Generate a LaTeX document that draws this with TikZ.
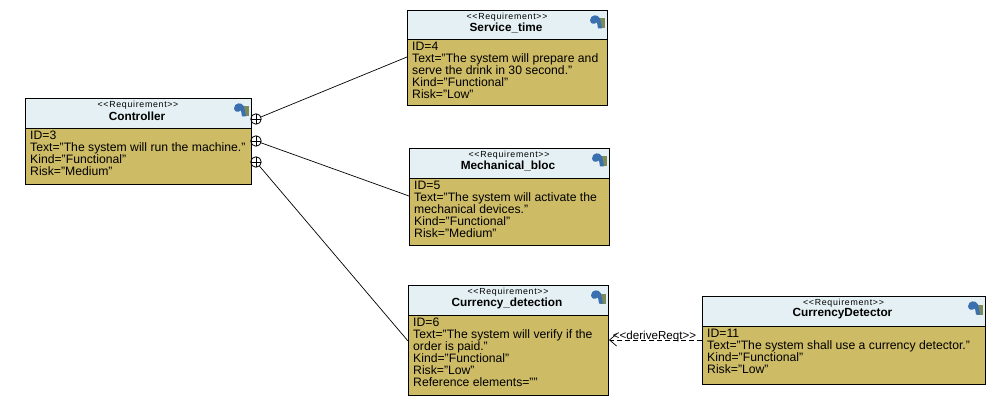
\documentclass[tikz,border=0pt]{standalone}
\usepackage{fontspec}
\setmainfont{Liberation Sans}
\newfontfamily\stereofont[LetterSpace=8]{Liberation Sans}
\usetikzlibrary{arrows.meta}
\definecolor{headfill}{HTML}{E4F0F3}
\definecolor{bodyfill}{HTML}{CDBB66}
\definecolor{iconblue}{HTML}{3A6FB0}
\definecolor{iconolive}{HTML}{7C8A5A}
\tikzset{
  x=1pt,y=-1pt,
  reqpart/.style={draw=black,line width=1pt,inner sep=0pt,outer sep=0pt,anchor=north west},
  headbox/.style={reqpart,fill=headfill},
  bodybox/.style={reqpart,fill=bodyfill},
  stereo/.style={inner sep=0pt,font=\stereofont\fontsize{8.8}{10}\selectfont},
  titletext/.style={inner sep=0pt,font=\fontsize{11.8}{14}\selectfont\bfseries},
  bodytext/.style={inner sep=0pt,anchor=north west,align=left,font=\fontsize{12.2}{12}\selectfont},
  plusnode/.style={circle,draw=black,line width=.8pt,minimum size=10.5pt,inner sep=0pt,outer sep=0pt,
    path picture={\draw[line width=.8pt] (path picture bounding box.north)--(path picture bounding box.south)
      (path picture bounding box.west)--(path picture bounding box.east);}},
  link/.style={draw=black,line width=.7pt},
  derive/.style={draw=black,line width=.7pt,dashed,dash pattern=on 5pt off 3pt,-{Straight Barb[length=7pt,width=12pt,line width=.7pt]}},
  linklabel/.style={inner sep=0pt,font=\fontsize{11.6}{12}\selectfont}
}
% name, x0, y0, ydiv, x1, y1, title, body
\newcommand{\reqbox}[8]{%
  \pgfmathsetmacro{\rw}{#5-#2}\pgfmathsetmacro{\rh}{#4-#3}\pgfmathsetmacro{\rb}{#6-#4}
  \pgfmathsetmacro{\rc}{(#2+#5)/2}
  \node[headbox,minimum width=\rw pt,minimum height=\rh pt] (#1) at (#2,#3) {};
  \node[bodybox,minimum width=\rw pt,minimum height=\rb pt] (#1b) at (#2,#4) {};
  \node[stereo] (#1s) at (\rc,#3+7) {<{}<Requirement>{}>};
  \node[titletext] (#1t) at (\rc-1,#3+17.5) {#7};
  \node[bodytext] (#1x) at (#2+5,#4+2.3) {#8};
  \fill[iconolive] (#5-8,#3+8) rectangle (#5-2,#3+18);
  \fill[iconblue] (#5-17,#3+10) .. controls (#5-17,#3+4) and (#5-9,#3+3) .. (#5-7,#3+8)
     -- (#5-5,#3+18) -- (#5-9,#3+18) -- (#5-10,#3+12) .. controls (#5-13,#3+14) and (#5-16,#3+14) .. (#5-17,#3+10) -- cycle;
}
\begin{document}
\begin{tikzpicture}
\useasboundingbox (0,0) rectangle (1003,403);
\fill[white] (0,0) rectangle (1003,403);
\reqbox{ctrl}{25}{98.5}{128.5}{251}{184.5}{Controller}{ID=3\\Text="The system will run the machine."\\Kind="Functional"\\Risk="Medium"}
\reqbox{serv}{407}{10.5}{39.5}{607}{105.5}{Service\_time}{ID=4\\Text="The system will prepare and\\serve the drink in 30 second."\\Kind="Functional"\\Risk="Low"}
\reqbox{mech}{409}{148.5}{178.5}{609}{245.5}{Mechanical\_bloc}{ID=5\\Text="The system will activate the\\mechanical devices."\\Kind="Functional"\\Risk="Medium"}
\reqbox{curr}{408}{285.5}{315.5}{608}{395.5}{Currency\_detection}{ID=6\\Text="The system will verify if the\\order is paid."\\Kind="Functional"\\Risk="Low"\\Reference elements=""}
\reqbox{dete}{702}{296.5}{326.5}{985}{384.5}{CurrencyDetector}{ID=11\\Text="The system shall use a currency detector."\\Kind="Functional"\\Risk="Low"}
\node[plusnode] (p1) at (256,119) {};
\node[plusnode] (p2) at (256,141) {};
\node[plusnode] (p3) at (256,162) {};
\coordinate (s1) at (407,57);
\coordinate (m1) at (409,196);
\coordinate (c1) at (408,341);
\coordinate (c2) at (609,340);
\coordinate (d1) at (702,340);
\draw[link] (p1) -- (s1);
\draw[link] (p2) -- (m1);
\draw[link] (p3) -- (c1);
\draw[derive] (d1) -- (c2);
\node[linklabel] (lab) at (654.5,336) {<{}<deriveReqt>{}>};
\end{tikzpicture}
\end{document}
